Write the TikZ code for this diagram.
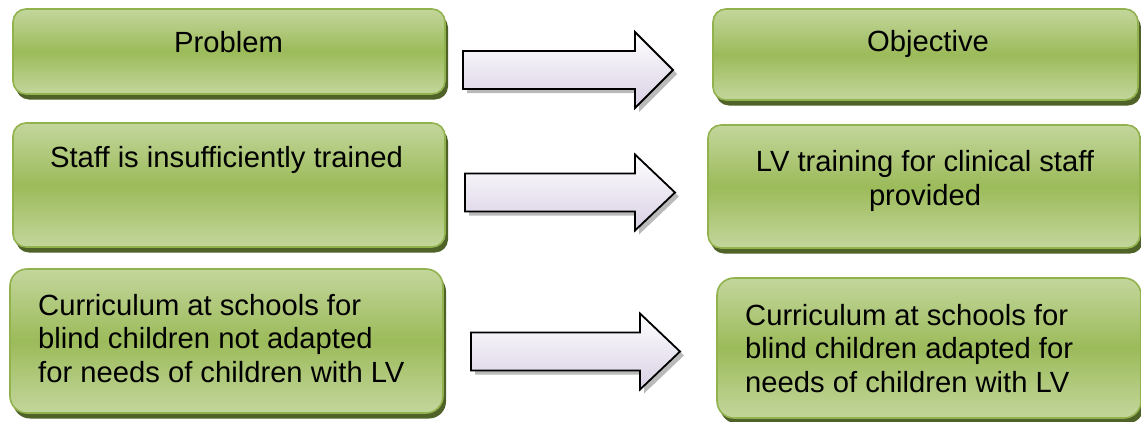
\documentclass[tikz,border=0pt]{standalone}
\usepackage{fontspec}
\setmainfont{Liberation Sans}
\usetikzlibrary{shadows}
\definecolor{gtop}{HTML}{C3D69C}
\definecolor{gmid}{HTML}{9CBB5A}
\definecolor{gborder}{HTML}{92B24E}
\definecolor{gshadow}{HTML}{4F6228}
\definecolor{alav}{HTML}{D8CFE4}
\tikzset{
  greenbox/.style={rectangle, rounded corners=13pt, draw=gborder, line width=1.6pt,
    top color=gtop, bottom color=gtop, middle color=gmid, inner sep=0pt,
    drop shadow={shadow xshift=3pt, shadow yshift=-5.5pt, fill=gshadow, opacity=1}},
  blockarrow/.style={draw=black, line width=1.8pt, line join=miter,
    top color=white, bottom color=alav,
    drop shadow={shadow xshift=4pt, shadow yshift=-4pt, fill=black!45, opacity=0.6}},
  txt/.style={anchor=base, inner sep=0pt, font=\fontsize{29.2}{33.5}\selectfont},
  txtl/.style={txt, anchor=base west}
}
\newcommand\blkarrow[4]{%
  \path[blockarrow] (#1,{#4-19}) -- (#2,{#4-19}) -- (#2,{#4-38}) -- (#3,#4) -- (#2,{#4+38}) -- (#2,{#4+19}) -- (#1,{#4+19}) -- cycle;}
\begin{document}
\begin{tikzpicture}[x=1pt,y=-1pt]
\useasboundingbox (0,0) rectangle (1141,421);
% boxes
\node[greenbox, minimum width=432pt, minimum height=85pt] (prob) at (229,51.5) {};
\node[greenbox, minimum width=425pt, minimum height=91pt] (obj) at (925.5,54.5) {};
\node[greenbox, minimum width=432pt, minimum height=124pt] (staff) at (229,185) {};
\node[greenbox, minimum width=432pt, minimum height=123pt] (lvt) at (924,186.5) {};
\node[greenbox, minimum width=433pt, minimum height=144pt, rounded corners=17pt] (curl) at (226.5,341) {};
\node[greenbox, minimum width=424pt, minimum height=140pt, rounded corners=17pt] (curr) at (929,348) {};
% arrows
\blkarrow{463}{635}{673}{70}
\blkarrow{465}{635}{675}{192.5}
\blkarrow{471}{640}{680}{351.5}
% texts
\node[txt] (tprob) at (228.5,52.5) {Problem};
\node[txt] (tobj) at (928,51.5) {Objective};
\node[txt] (tstaff) at (226.5,167) {Staff is insufficiently trained};
\node[txt] (tlv1) at (925,171) {LV training for clinical staff};
\node[txt] (tlv2) at (925,205.5) {provided};
\node[txtl] (tcl1) at (38,315) {Curriculum at schools for};
\node[txtl] (tcl2) at (38,348.5) {blind children not adapted};
\node[txtl] (tcl3) at (38,382) {for needs of children with LV};
\node[txtl] (tcr1) at (745,325) {Curriculum at schools for};
\node[txtl] (tcr2) at (745,358.5) {blind children adapted for};
\node[txtl] (tcr3) at (745,392) {needs of children with LV};
\end{tikzpicture}
\end{document}
